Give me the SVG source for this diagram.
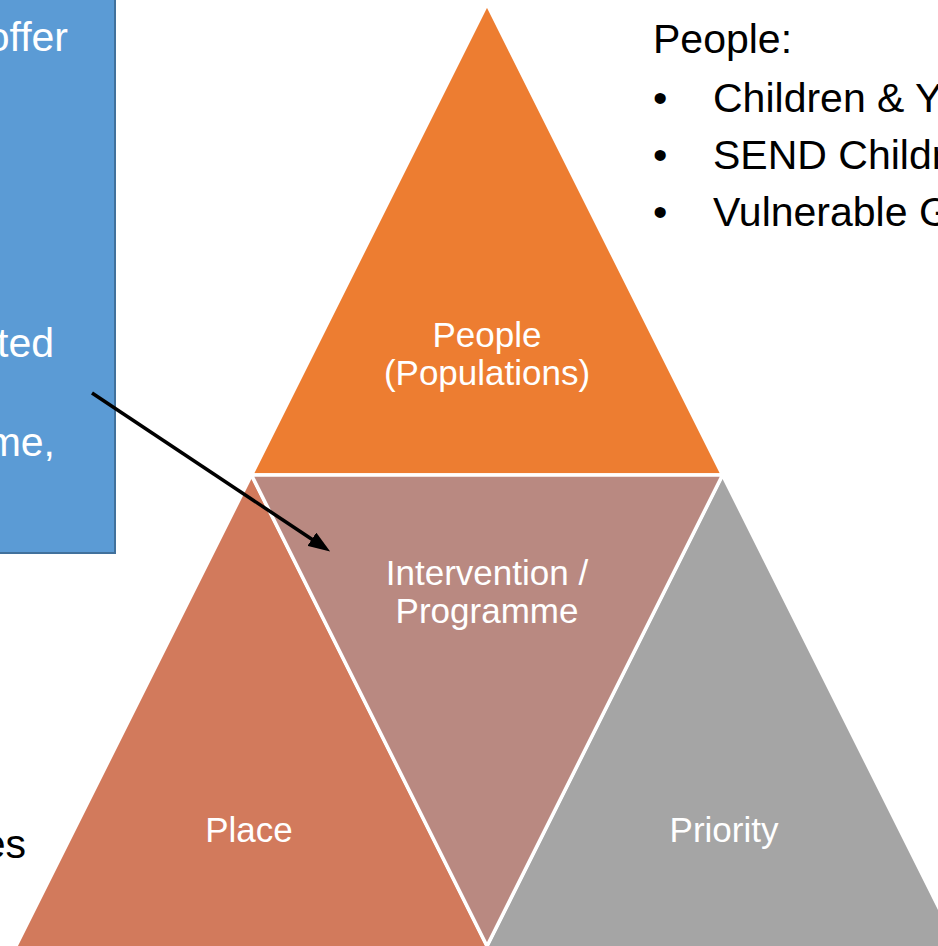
<svg xmlns="http://www.w3.org/2000/svg" width="938" height="946" viewBox="0 0 938 946">
<style>
.tri{stroke:#FFFFFF;stroke-width:3.5;stroke-linejoin:miter}
.lbl{font-family:"Liberation Sans",Arial,sans-serif;font-size:35px;fill:#FFFFFF;text-anchor:middle}
.big{font-family:"Liberation Sans",Arial,sans-serif;font-size:41px;fill:#000000}
.boxt{font-family:"Liberation Sans",Arial,sans-serif;font-size:41px;fill:#FFFFFF;text-anchor:end}
</style>
<defs>
<marker id="ah" markerUnits="userSpaceOnUse" markerWidth="22" markerHeight="16" refX="5" refY="8" orient="auto" viewBox="0 0 22 16">
<path d="M0,0 L22,8 L0,16 z" fill="#000000"/>
</marker>
</defs>
<rect width="938" height="946" fill="#FFFFFF"/>
<g id="blue-box">
<rect x="-10" y="-10" width="125" height="563" fill="#5B9BD5" stroke="#41719C" stroke-width="2"/>
<text class="boxt" x="68" y="51">offer</text>
<text class="boxt" x="54" y="357">ted</text>
<text class="boxt" x="55" y="456">me,</text>
</g>
<g id="left-text">
<text class="big" x="26" y="858" text-anchor="end">es</text>
</g>
<g id="people-list">
<text class="big" x="653" y="53">People:</text>
<text class="big" x="653" y="112">•</text>
<text class="big" x="713" y="112">Children &amp; Y</text>
<text class="big" x="653" y="169">•</text>
<text class="big" x="713" y="169">SEND Childr</text>
<text class="big" x="653" y="226">•</text>
<text class="big" x="713" y="226">Vulnerable G</text>
</g>
<g id="people-triangle">
<polygon class="tri" points="487,4 251.5,475 722.5,475" fill="#ED7D31"/>
<text class="lbl" x="487" y="347">People</text>
<text class="lbl" x="487" y="385">(Populations)</text>
</g>
<g id="place-triangle">
<polygon class="tri" points="251.5,475 13,952 490,952" fill="#D27A5C"/>
<text class="lbl" x="249" y="842">Place</text>
</g>
<g id="priority-triangle">
<polygon class="tri" points="722.5,475 484,952 961,952" fill="#A5A5A5"/>
<text class="lbl" x="724" y="842">Priority</text>
</g>
<g id="intervention-triangle">
<polygon class="tri" points="251.5,475 722.5,475 487,946" fill="#B98981"/>
<text class="lbl" x="487" y="585">Intervention /</text>
<text class="lbl" x="487" y="623">Programme</text>
</g>
<g id="connectors">
<line x1="92" y1="393" x2="316" y2="542" stroke="#000000" stroke-width="3.5" marker-end="url(#ah)"/>
</g>
</svg>
